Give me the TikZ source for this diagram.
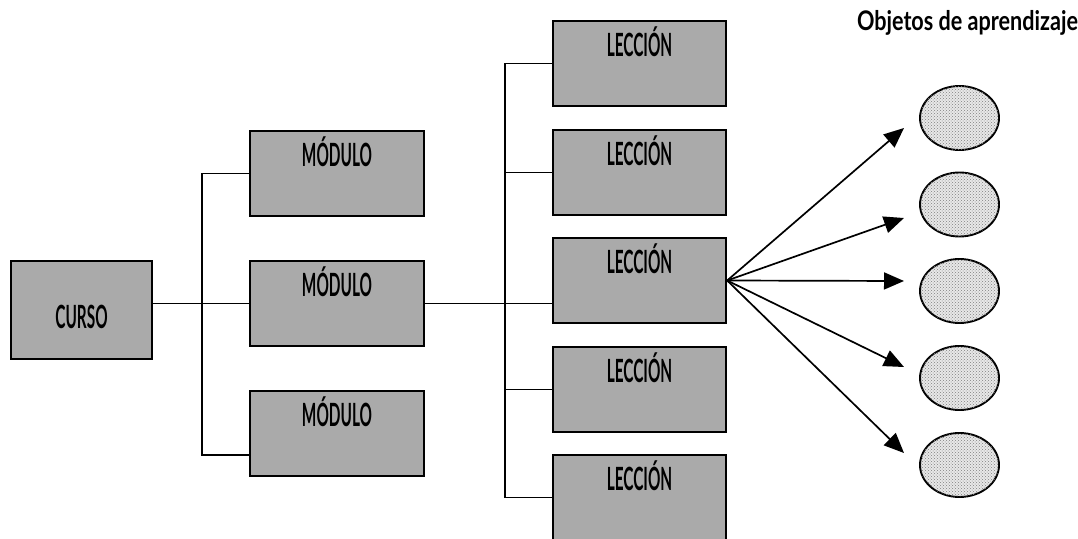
\documentclass[tikz,border=0pt]{standalone}
\usepackage{fontspec}
\usetikzlibrary{arrows.meta,patterns,shapes.geometric}
\newfontfamily\boxfont[FakeStretch=0.48]{Lato}
\newfontfamily\titlefont[FakeStretch=0.8]{Lato}
\definecolor{boxgray}{RGB}{170,170,170}
\definecolor{ovalgray}{RGB}{232,232,232}
\tikzset{
  box/.style={draw, line width=2.3pt, fill=boxgray, inner sep=0pt},
  curso/.style={box, minimum width=141pt, minimum height=98pt},
  modbox/.style={box, minimum width=174pt, minimum height=85pt},
  lecbox/.style={box, minimum width=173pt, minimum height=85pt},
  lbl/.style={font=\boxfont\bfseries\fontsize{32}{33}\selectfont, inner sep=0pt, anchor=base},
  conn/.style={line width=1.5pt},
  arr/.style={line width=1.7pt, -{Triangle[length=20pt,width=17pt]}},
  oval/.style={draw, ellipse, line width=1.9pt, fill=ovalgray, postaction={pattern=crosshatch dots, pattern color=black!50}, minimum width=79pt, minimum height=64pt, inner sep=0pt}
}
\begin{document}
\begin{tikzpicture}[x=1pt,y=-1pt]
\useasboundingbox (0,0) rectangle (1078,538);
% boxes
\node[curso] (c) at (81.5,310) {};
\node[lbl] (ct) at (81.5,328) {CURSO};
\node[modbox] (m1) at (337,173.5) {};
\node[modbox] (m2) at (337,303.5) {};
\node[modbox] (m3) at (337,433.5) {};
\node[lbl] (m1t) at (337,166) {MÓDULO};
\node[lbl] (m2t) at (337,296) {MÓDULO};
\node[lbl] (m3t) at (337,426) {MÓDULO};
\node[lecbox] (l1) at (639.5,63.5) {};
\node[lecbox] (l2) at (639.5,172.5) {};
\node[lecbox] (l3) at (639.5,280.5) {};
\node[lecbox] (l4) at (639.5,389.5) {};
\node[lecbox] (l5) at (639.5,497.5) {};
\node[lbl] (l1t) at (639.5,56) {LECCIÓN};
\node[lbl] (l2t) at (639.5,165) {LECCIÓN};
\node[lbl] (l3t) at (639.5,273) {LECCIÓN};
\node[lbl] (l4t) at (639.5,382) {LECCIÓN};
\node[lbl] (l5t) at (639.5,490) {LECCIÓN};
% connectors
\coordinate (j1) at (202,455);
\coordinate (j2) at (505,0);
\draw[conn] (c.east |- m2.west) -- (m2.west);
\draw[conn] (m1.west) -| (j1) -- (j1 -| m3.west);
\draw[conn] (l1.west) -- (l1.west -| j2) -- (l5.west -| j2) -- (l5.west);
\draw[conn] (l2.west -| j2) -- (l2.west);
\draw[conn] (l4.west -| j2) -- (l4.west);
\draw[conn] (m2.east) -- (m2.east -| l3.west);
% objects
\node[oval] (o1) at (959.5,118) {};
\node[oval] (o2) at (959.5,204.5) {};
\node[oval] (o3) at (959.5,291) {};
\node[oval] (o4) at (959.5,378) {};
\node[oval] (o5) at (959.5,465) {};
\coordinate (t1) at (904,128);
\coordinate (t2) at (904,218);
\coordinate (t3) at (904,281);
\coordinate (t4) at (904,367);
\coordinate (t5) at (904,453);
\foreach \t in {t1,t2,t3,t4,t5} \draw[arr] (l3.east) -- (\t);
\node[font=\titlefont\bfseries\fontsize{27}{28}\selectfont, inner sep=0pt, anchor=base] (title) at (967.5,30) {Objetos de aprendizaje};
\end{tikzpicture}
\end{document}
